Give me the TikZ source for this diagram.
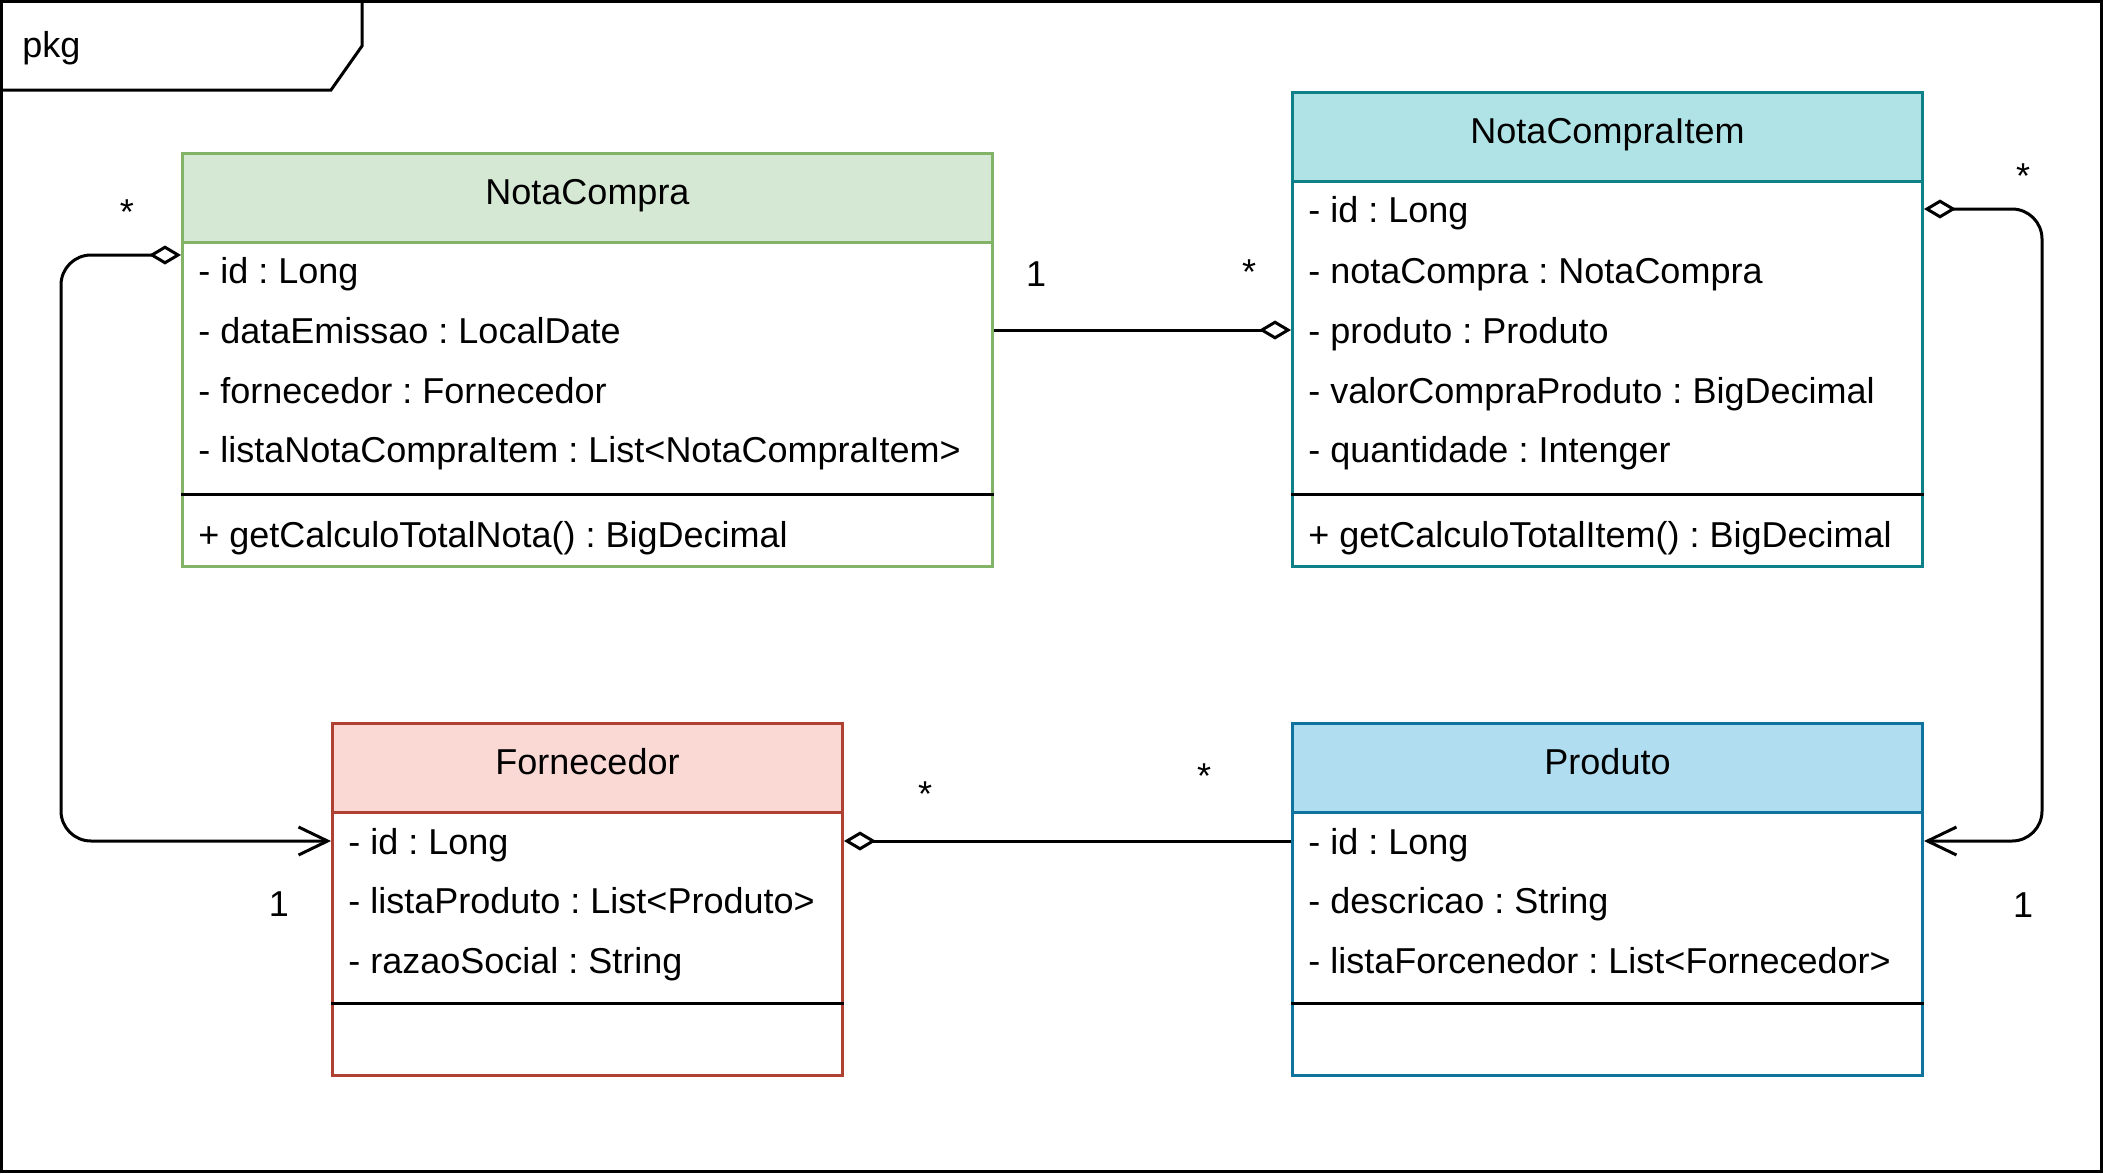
\documentclass[tikz,border=0pt]{standalone}
\usepackage{fontspec}
\setmainfont{Liberation Sans}
\usetikzlibrary{arrows.meta}
\frenchspacing

\definecolor{ncfill}{HTML}{D5E8D4}
\definecolor{ncline}{HTML}{82B366}
\definecolor{nciFill}{HTML}{B0E3E6}
\definecolor{nciLine}{HTML}{0E8088}
\definecolor{fornFill}{HTML}{FAD9D5}
\definecolor{fornLine}{HTML}{AE4132}
\definecolor{prodFill}{HTML}{B1DDF0}
\definecolor{prodLine}{HTML}{10739E}

\tikzset{
  classbox/.style={draw, line width=1.5pt, anchor=north west, inner sep=0pt},
  head/.style={classbox, minimum height=44.5pt, text height=13pt, text depth=7pt},
  row/.style={anchor=west, inner sep=0pt, text height=13pt, text depth=0pt},
  mult/.style={anchor=base, inner sep=0pt},
  agg/.style={line width=1.5pt, -{Diamond[open,length=16pt,width=9.5pt]}},
  assoc/.style={line width=1.5pt, rounded corners=15pt,
    {Diamond[open,length=16pt,width=9.5pt]}-{Straight Barb[length=14.5pt,width=14pt]}}
}

\begin{document}
\begin{tikzpicture}[x=0.5pt,y=-0.5pt,font=\fontsize{18}{21.6}\selectfont]
 \useasboundingbox (0,0) rectangle (2103,1173);
 % package frame
 \draw[line width=1.5pt] (1.5,1.5) rectangle (2101.5,1171.5);
 \draw[line width=1.5pt] (1.5,90)--(331,90)--(362,46)--(362,1.5);
 \node[anchor=base west, inner sep=0pt] (pkgLabel) at (22,57) {pkg};

 % NotaCompra
 \node[classbox, draw=ncline, minimum width=405pt, minimum height=206.5pt] (nc) at (181,152) {};
 \node[head, draw=ncline, fill=ncfill, minimum width=405pt] (ncHead) at (181,152) {NotaCompra};
 \node[row] (ncId) at (198,270) {- id : Long};
 \node[row] (ncData) at (198,330) {- dataEmissao : LocalDate};
 \node[row] (ncForn) at (198,390) {- fornecedor : Fornecedor};
 \node[row] (ncLista) at (198,449) {- listaNotaCompraItem : List<NotaCompraItem>};
 \draw[line width=1.5pt] (nc.west |- 0,494)--(nc.east |- 0,494);
 \node[row] (ncTotal) at (198,534) {+ getCalculoTotalNota() : BigDecimal};

 % NotaCompraItem
 \node[classbox, draw=nciLine, minimum width=315pt, minimum height=237pt] (nci) at (1291,91) {};
 \node[head, draw=nciLine, fill=nciFill, minimum width=315pt] (nciHead) at (1291,91) {NotaCompraItem};
 \node[row] (nciId) at (1308,209) {- id : Long};
 \node[row] (nciNota) at (1308,270) {- notaCompra : NotaCompra};
 \node[row] (nciProduto) at (1308,330) {- produto : Produto};
 \node[row] (nciValor) at (1308,390) {- valorCompraProduto : BigDecimal};
 \node[row] (nciQtd) at (1308,449) {- quantidade : Intenger};
 \draw[line width=1.5pt] (nci.west |- 0,494)--(nci.east |- 0,494);
 \node[row] (nciTotal) at (1308,534) {+ getCalculoTotalItem() : BigDecimal};

 % Fornecedor
 \node[classbox, draw=fornLine, minimum width=255pt, minimum height=176pt] (forn) at (331,722) {};
 \node[head, draw=fornLine, fill=fornFill, minimum width=255pt] (fornHead) at (331,722) {Fornecedor};
 \node[row] (fornId) at (348,841) {- id : Long};
 \node[row] (fornLista) at (348,900) {- listaProduto : List<Produto>};
 \node[row] (fornRazao) at (348,960) {- razaoSocial : String};
 \draw[line width=1.5pt] (forn.west |- 0,1003)--(forn.east |- 0,1003);

 % Produto
 \node[classbox, draw=prodLine, minimum width=315pt, minimum height=176pt] (prod) at (1291,722) {};
 \node[head, draw=prodLine, fill=prodFill, minimum width=315pt] (prodHead) at (1291,722) {Produto};
 \node[row] (prodId) at (1308,841) {- id : Long};
 \node[row] (prodDesc) at (1308,900) {- descricao : String};
 \node[row] (prodLista) at (1308,960) {- listaForcenedor : List<Fornecedor>};
 \draw[line width=1.5pt] (prod.west |- 0,1003)--(prod.east |- 0,1003);

 % connectors
 \coordinate (ncLink) at (181,255);
 \draw[assoc] (ncLink)--++(-120,0)|-(forn.west |- fornId);
 \draw[agg] (nc.east |- nciProduto)--(nci.west |- nciProduto);
 \draw[assoc] (nci.east |- nciId)--++(118,0)|-(prod.east |- prodId);
 \draw[agg] (prod.west |- prodId)--(forn.east |- fornId);

 % multiplicities
 \node[mult] (mNcStar) at (127,224) {*};
 \node[mult] (mFornOne) at (279,916) {1};
 \node[mult] (mNcOne) at (1036,286) {1};
 \node[mult] (mNciStar) at (1249,284) {*};
 \node[mult] (mNciItemStar) at (2023,188) {*};
 \node[mult] (mProdOne) at (2023,917) {1};
 \node[mult] (mFornStar) at (925,806) {*};
 \node[mult] (mProdStar) at (1204,788) {*};
\end{tikzpicture}
\end{document}
